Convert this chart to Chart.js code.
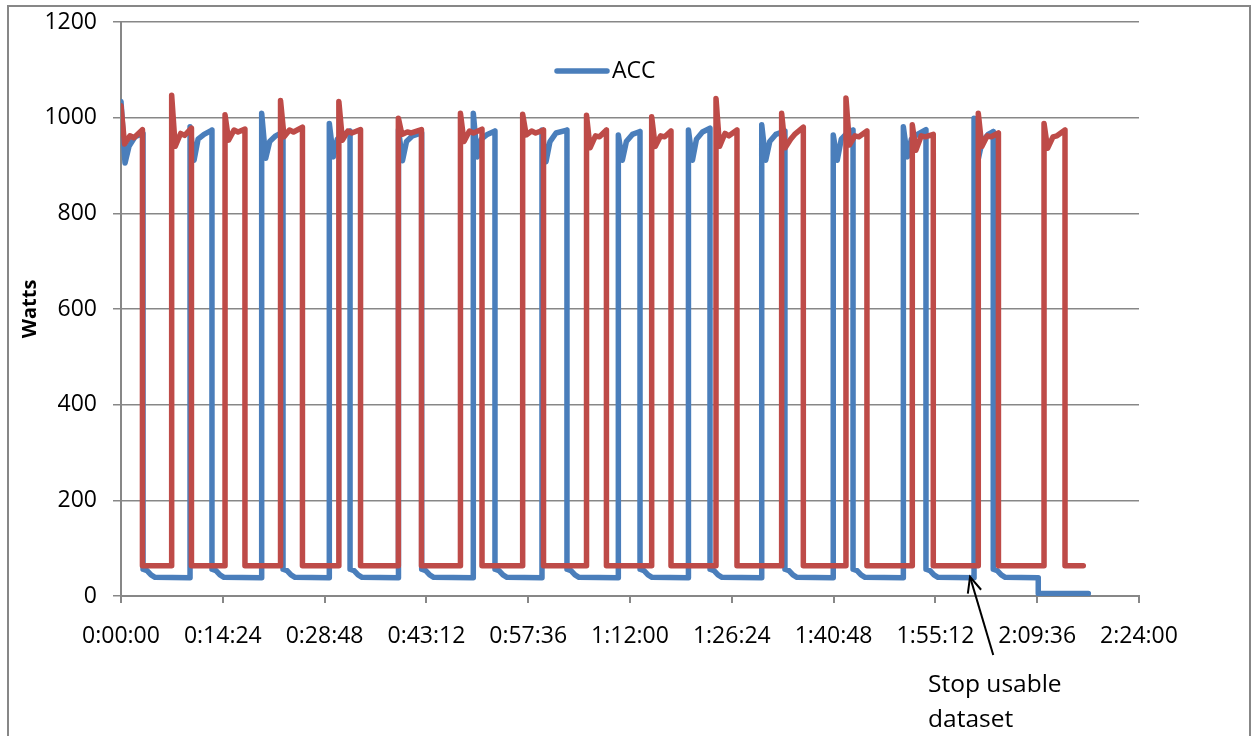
<!DOCTYPE html>
<html>
<head>
<meta charset="utf-8">
<title>Watts</title>
<script src="https://cdn.jsdelivr.net/npm/chart.js@4.4.1/dist/chart.umd.min.js"></script>
<style>
  html, body { margin: 0; padding: 0; background: #fff; }
  #wrap { width: 1255px; height: 736px; position: relative; }
</style>
</head>
<body>
<div id="wrap"><canvas id="chart"></canvas></div>
<script>
// seconds from start -> watts (one row per on/off cycle)
const accTime = [
  0, 34, 68, 119, 187, 187, 221, 255, 289,
  586, 586, 620, 654, 705, 772, 772, 806, 840, 874,
  1194, 1194, 1228, 1262, 1313, 1375, 1375, 1409, 1443, 1477,
  1768, 1768, 1802, 1836, 1887, 1944, 1944, 1978, 2012, 2046,
  2355, 2355, 2389, 2423, 2474, 2552, 2552, 2586, 2620, 2654,
  2990, 2990, 3024, 3058, 3109, 3174, 3174, 3208, 3242, 3276,
  3573, 3573, 3607, 3641, 3692, 3785, 3785, 3819, 3853, 3887,
  4221, 4221, 4255, 4289, 4340, 4405, 4405, 4439, 4473, 4507,
  4816, 4816, 4850, 4884, 4935, 4999, 4999, 5033, 5067, 5101,
  5438, 5438, 5472, 5506, 5557, 5635, 5635, 5669, 5703, 5737,
  6045, 6045, 6079, 6113, 6164, 6213, 6213, 6247, 6281, 6315,
  6640, 6640, 6674, 6708, 6759, 6832, 6832, 6866, 6900, 6934,
  7240, 7240, 7274, 7308, 7359, 7403, 7403, 7437, 7471, 7505,
  7785, 7785, 8210
];
const accWatts = [
  1034, 905, 940, 960, 967, 56, 53, 44, 39,
  38, 981, 911, 955, 965, 974, 56, 53, 44, 39,
  38, 1009, 915, 950, 962, 970, 56, 53, 44, 39,
  38, 988, 918, 955, 965, 972, 56, 53, 44, 39,
  38, 975, 910, 950, 962, 968, 56, 53, 44, 39,
  38, 1009, 918, 955, 965, 972, 56, 53, 44, 39,
  38, 974, 908, 950, 968, 974, 56, 53, 44, 39,
  38, 964, 911, 950, 965, 971, 56, 53, 44, 39,
  38, 974, 911, 955, 970, 978, 56, 53, 44, 39,
  38, 985, 911, 950, 965, 972, 56, 53, 44, 39,
  38, 964, 911, 955, 968, 974, 56, 53, 44, 39,
  38, 981, 918, 955, 965, 975, 56, 53, 44, 39,
  38, 999, 911, 950, 965, 971, 56, 53, 44, 39,
  38, 5, 5
];

const series2Time = [
  0, 30, 76, 110, 182, 182,
  430, 430, 460, 506, 540, 598, 598,
  883, 883, 913, 959, 993, 1052, 1052,
  1354, 1354, 1384, 1430, 1464, 1540, 1540,
  1849, 1849, 1879, 1925, 1959, 2033, 2033,
  2354, 2354, 2384, 2430, 2464, 2550, 2550,
  2881, 2881, 2911, 2957, 2991, 3064, 3064,
  3409, 3409, 3439, 3485, 3519, 3586, 3586,
  3951, 3951, 3981, 4027, 4061, 4120, 4120,
  4504, 4504, 4534, 4580, 4614, 4668, 4668,
  5050, 5050, 5080, 5126, 5160, 5228, 5228,
  5607, 5607, 5637, 5683, 5717, 5791, 5791,
  6153, 6153, 6183, 6229, 6263, 6331, 6331,
  6716, 6716, 6746, 6792, 6826, 6894, 6894,
  7276, 7276, 7306, 7352, 7386, 7447, 7447,
  7834, 7834, 7864, 7910, 7944, 8012, 8012,
  8167
];
const series2Watts = [
  1025, 945, 962, 958, 975, 63,
  63, 1047, 940, 967, 963, 978, 63,
  63, 1006, 953, 974, 970, 976, 63,
  63, 1036, 960, 974, 970, 980, 63,
  63, 1034, 953, 972, 968, 975, 63,
  63, 999, 965, 970, 968, 975, 63,
  63, 1009, 950, 972, 968, 976, 63,
  63, 1007, 964, 972, 968, 974, 63,
  63, 1005, 937, 962, 960, 974, 63,
  63, 1002, 940, 962, 960, 972, 63,
  63, 1040, 940, 967, 962, 974, 63,
  63, 1009, 937, 955, 965, 980, 63,
  63, 1041, 943, 962, 960, 972, 63,
  63, 985, 932, 962, 960, 965, 63,
  63, 1009, 940, 962, 960, 968, 63,
  63, 988, 936, 960, 962, 974, 63,
  63
];

const xTickLabels = ["0:00:00", "0:14:24", "0:28:48", "0:43:12", "0:57:36", "1:12:00",
  "1:26:24", "1:40:48", "1:55:12", "2:09:36", "2:24:00"];

const FONT = "'Open Sans', 'Noto Sans', sans-serif";
const GRID = "#878787";

function toPoints(times, watts) {
  return times.map((t, i) => ({ x: t, y: watts[i] }));
}

// outer frame, legend and the "Stop usable dataset" note
const decorations = {
  id: "decorations",
  beforeDraw(chart) {
    const ctx = chart.ctx;
    ctx.save();
    ctx.strokeStyle = GRID;
    ctx.lineWidth = 2;
    ctx.strokeRect(8, 6, 1242, 740);
    ctx.restore();
  },
  afterDraw(chart) {
    const { ctx, chartArea } = chart;
    const xs = chart.scales.x;
    const ys = chart.scales.y;
    ctx.save();

    // legend (only ACC shown)
    const ly = chartArea.top + 49;
    const lx = chartArea.left + 436;
    ctx.strokeStyle = chart.data.datasets[0].borderColor;
    ctx.lineWidth = 5.5;
    ctx.lineCap = "round";
    ctx.beginPath();
    ctx.moveTo(lx, ly);
    ctx.lineTo(lx + 50, ly);
    ctx.stroke();
    ctx.fillStyle = "#000";
    ctx.font = "23px " + FONT;
    ctx.textBaseline = "middle";
    ctx.fillText(chart.data.datasets[0].label, lx + 55, ly);

    // annotation arrow
    const tipX = xs.getPixelForValue(7206);
    const tipY = ys.getPixelForValue(40);
    const tailX = xs.getPixelForValue(7403);
    const tailY = chartArea.bottom + 59;
    ctx.strokeStyle = "#000";
    ctx.lineWidth = 2;
    ctx.lineCap = "butt";
    ctx.beginPath();
    ctx.moveTo(tailX, tailY);
    ctx.lineTo(tipX, tipY);
    ctx.stroke();
    const ang = Math.atan2(tailY - tipY, tailX - tipX);
    ctx.beginPath();
    ctx.moveTo(tipX + 17 * Math.cos(ang - 0.42), tipY + 17 * Math.sin(ang - 0.42));
    ctx.lineTo(tipX, tipY);
    ctx.lineTo(tipX + 17 * Math.cos(ang + 0.42), tipY + 17 * Math.sin(ang + 0.42));
    ctx.stroke();

    ctx.font = "24.5px " + FONT;
    ctx.textBaseline = "alphabetic";
    const tx = xs.getPixelForValue(6850);
    ctx.fillText("Stop usable", tx, chartArea.bottom + 96);
    ctx.fillText("dataset", tx, chartArea.bottom + 131);
    ctx.restore();
  },
};

new Chart(document.getElementById("chart"), {
  type: "line",
  data: {
    datasets: [
      {
        label: "ACC",
        data: toPoints(accTime, accWatts),
        borderColor: "#4a7ebb",
        borderWidth: 5.5,
        pointRadius: 0,
        tension: 0,
        borderJoinStyle: "round",
        borderCapStyle: "round",
        order: 1,
      },
      {
        label: "Series2",
        data: toPoints(series2Time, series2Watts),
        borderColor: "#be4b48",
        borderWidth: 5.5,
        pointRadius: 0,
        tension: 0,
        borderJoinStyle: "round",
        borderCapStyle: "round",
        order: 0,
      },
    ],
  },
  options: {
    responsive: true,
    maintainAspectRatio: false,
    animation: false,
    layout: { padding: { left: 0, top: 22, right: 116, bottom: 0 } },
    plugins: {
      legend: { display: false },
      tooltip: { enabled: false },
    },
    scales: {
      x: {
        type: "linear",
        min: 0,
        max: 8640,
        ticks: {
          stepSize: 864,
          color: "#000",
          font: { family: FONT, size: 23 },
          padding: 20,
          maxRotation: 0,
          callback: (v, i) => xTickLabels[i],
        },
        grid: { drawOnChartArea: false, color: GRID, lineWidth: 2, tickLength: 7 },
        border: { color: GRID, width: 2 },
        afterFit: (s) => { s.height = 140; s.paddingLeft = 0; s.paddingRight = 0; },
      },
      y: {
        min: 0,
        max: 1200,
        ticks: {
          stepSize: 200,
          color: "#000",
          font: { family: FONT, size: 23 },
          padding: 16,
          callback: (v) => String(v),
        },
        grid: { color: GRID, lineWidth: 1.5, tickLength: 8 },
        border: { color: GRID, width: 2 },
        title: {
          display: true,
          text: "Watts",
          color: "#000",
          font: { family: FONT, size: 20, weight: "bold" },
          padding: { top: 18, bottom: 0 },
        },
        afterFit: (s) => { s.width = 121; s.paddingTop = 0; s.paddingBottom = 0; },
      },
    },
  },
  plugins: [decorations],
});
</script>
</body>
</html>
